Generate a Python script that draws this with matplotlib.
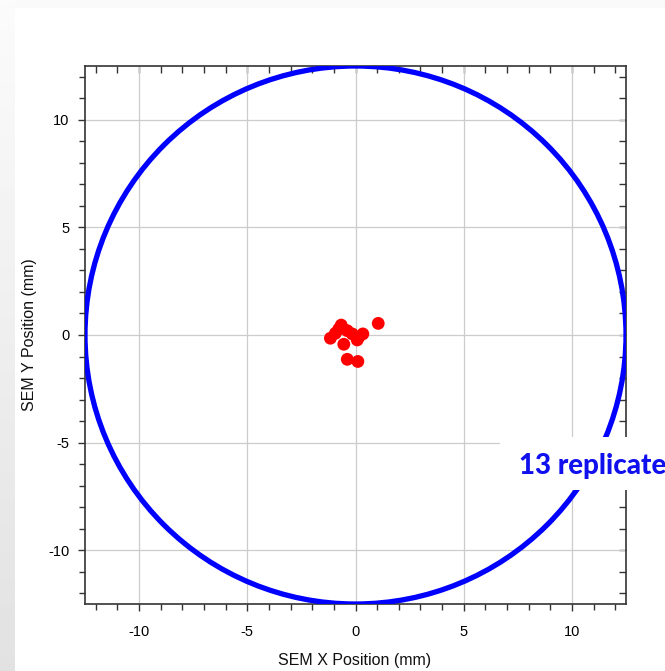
import numpy as np
import matplotlib
matplotlib.use("Agg")
import matplotlib.pyplot as plt
from matplotlib.patches import Circle
from matplotlib.ticker import MultipleLocator

plt.rcParams["axes.unicode_minus"] = False

# Data
x_pos = [1.05, -0.66, -1.16, -0.93, -0.38, -0.15, 0.34, 0.08, -0.54, -0.38, 0.11, -0.77, 0.15]
y_pos = [0.54, 0.46, -0.15, 0.08, 0.20, 0.05, 0.05, -0.23, -0.43, -1.13, -1.23, 0.28, -0.10]
wafer_radius = 12.5
x_ticks = [-10, -5, 0, 5, 10]
y_ticks = [-10, -5, 0, 5, 10]
annotation = "13 replicate"
xlabel = "SEM X Position (mm)"
ylabel = "SEM Y Position (mm)"

W, H = 665, 671
fig = plt.figure(figsize=(W / 100, H / 100), dpi=100)
fig.patch.set_facecolor("white")

# background strips (slide screenshot look)
bg = fig.add_axes([0, 0, 1, 1], zorder=-10)
bg.axis("off")
grad = np.linspace(0.985, 0.885, 256).reshape(-1, 1)
bg.imshow(grad, cmap="gray", vmin=0, vmax=1, extent=[0, 15, H, 0], aspect="auto")
bg.imshow(np.full((1, 1), 0.98), cmap="gray", vmin=0, vmax=1,
          extent=[15, W, 8, 0], aspect="auto")
bg.set_xlim(0, W)
bg.set_ylim(H, 0)

ax = fig.add_axes([85 / W, 1 - 604 / H, (626 - 85) / W, (604 - 66) / H])
ax.set_facecolor("white")
ax.set_xlim(-12.5, 12.5)
ax.set_ylim(-12.5, 12.5)

ax.add_patch(Circle((0, 0), wafer_radius, fill=False, edgecolor="#0000ff",
                    linewidth=3.8, zorder=3))
ax.scatter(x_pos, y_pos, s=85, color="#ff0000", edgecolors="none", zorder=4)

ax.set_xticks(x_ticks)
ax.set_yticks(y_ticks)
ax.xaxis.set_minor_locator(MultipleLocator(1))
ax.yaxis.set_minor_locator(MultipleLocator(1))
ax.grid(True, which="major", color="#cccccc", linewidth=0.9, zorder=0)
ax.set_axisbelow(True)

ax.tick_params(which="major", direction="out", length=5, width=1, color="#333333",
               labelsize=10.5)
ax.tick_params(which="minor", direction="out", length=4, width=1, color="#333333")
ax.tick_params(axis="x", pad=10)
ax.tick_params(axis="y", pad=6)
for lab in ax.get_xticklabels() + ax.get_yticklabels():
    lab.set_fontfamily("Liberation Sans")

for s in ax.spines.values():
    s.set_color("#333333")
    s.set_linewidth(1.2)

secx = ax.secondary_xaxis("top")
secx.set_xticks(x_ticks)
secx.xaxis.set_minor_locator(MultipleLocator(1))
secx.tick_params(which="both", direction="in", length=5, width=1, color="#333333",
                 labeltop=False)
secx.spines["top"].set_visible(False)
secy = ax.secondary_yaxis("right")
secy.set_yticks(y_ticks)
secy.yaxis.set_minor_locator(MultipleLocator(1))
secy.tick_params(which="both", direction="in", length=5, width=1, color="#333333",
                 labelright=False)
secy.spines["right"].set_visible(False)

fig.text(355 / W, 1 - 660 / H, xlabel, ha="center", va="center",
         fontsize=11.5, family="Liberation Sans", color="#111111")
fig.text(30 / W, 1 - 335 / H, ylabel, ha="center", va="center", rotation=90,
         fontsize=11.5, family="Liberation Sans", color="#111111")

# white box with annotation
bg2 = fig.add_axes([0, 0, 1, 1], zorder=20)
bg2.set_xlim(0, W)
bg2.set_ylim(H, 0)
bg2.axis("off")
bg2.add_patch(plt.Rectangle((500, 437), W - 500, 53, facecolor="white",
                            edgecolor="none"))
bg2.text(519, 466, annotation, ha="left", va="center", fontsize=20,
         fontweight="black", family="Lato", color="#1010ee")

fig.savefig("out.png", dpi=100, facecolor=fig.get_facecolor())
